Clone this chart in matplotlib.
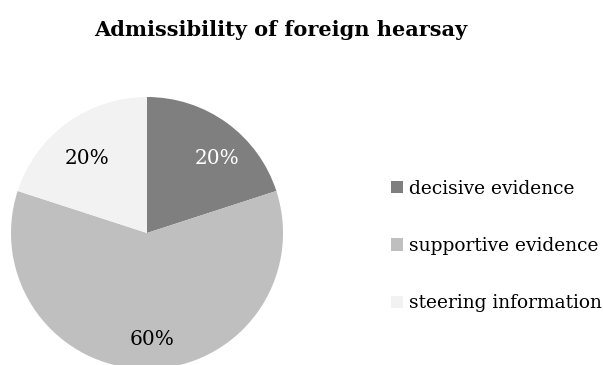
import matplotlib.pyplot as plt

plt.rcParams['font.family'] = ['DejaVu Serif']

categories = ["decisive evidence", "supportive evidence", "steering information"]
shares = [20, 60, 20]
colors = ["#7f7f7f", "#bfbfbf", "#f2f2f2"]
label_colors = ["white", "black", "black"]
# nudges for the percentage labels, in pie radius units
label_offsets = [(0.07, -0.065), (0.035, -0.02), (0.005, -0.065)]

fig = plt.figure(figsize=(6.03, 3.65), dpi=100)

# pie axes: centre at (147, 233) px, radius 136 px
ax = fig.add_axes([11 / 603, -4 / 365, 272 / 603, 272 / 365])
wedges, texts, autotexts = ax.pie(
    shares, colors=colors, startangle=90, counterclock=False,
    autopct="%d%%", pctdistance=0.76, radius=1,
    wedgeprops=dict(linewidth=0),
    textprops=dict(fontsize=14.5),
)
for t, c, (dx, dy) in zip(autotexts, label_colors, label_offsets):
    x, y = t.get_position()
    t.set_position((x + dx, y + dy))
    t.set_color(c)
ax.set_xlim(-1, 1)
ax.set_ylim(-1, 1)
ax.set_aspect("equal")
ax.axis("off")

fig.text(281 / 603, 1 - 30 / 365, "Admissibility of foreign hearsay",
         ha="center", va="center", fontsize=15, fontweight="bold")

fig.legend(wedges, categories, loc="center left",
           bbox_to_anchor=(374 / 603, 1 - 246 / 365),
           frameon=False, fontsize=13.4, labelspacing=2.12,
           handlelength=0.66, handleheight=0.66, handletextpad=0.33)

fig.savefig("out.png", dpi=100)
